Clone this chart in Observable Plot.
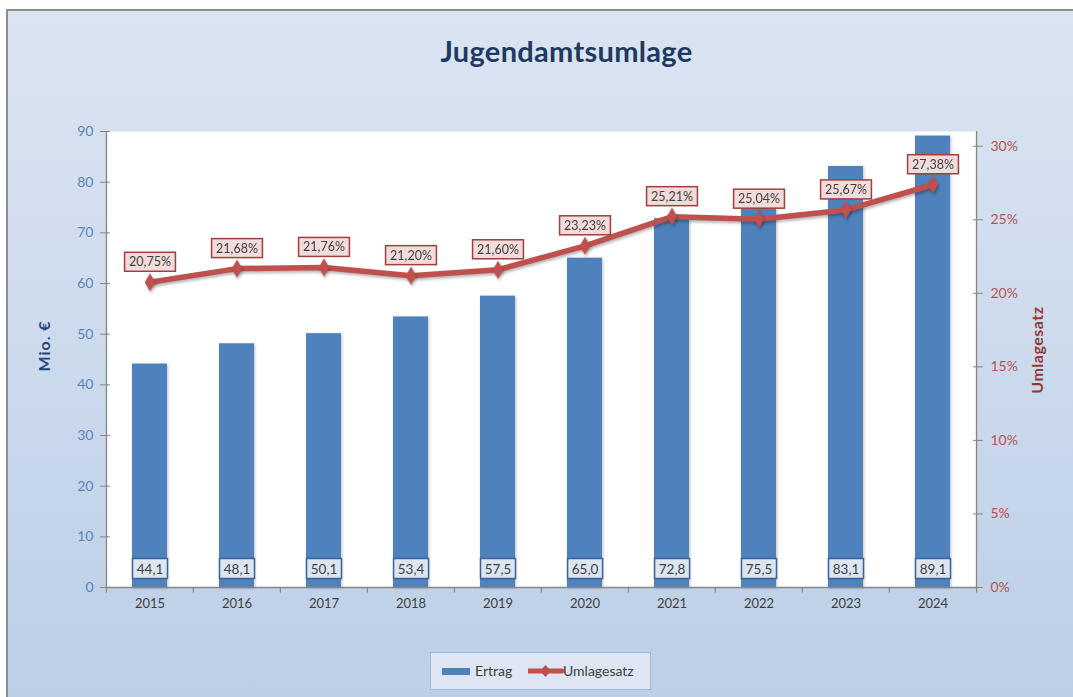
<!DOCTYPE html>
<html>
<head>
<meta charset="utf-8">
<script src="https://cdn.jsdelivr.net/npm/d3@7"></script>
<script src="https://cdn.jsdelivr.net/npm/@observablehq/plot@0.6"></script>
<style>
  html, body { margin: 0; padding: 0; background: #ffffff; width: 1073px; height: 697px; overflow: hidden; font-family: Lato, "Open Sans", sans-serif; }
  #bg { position: absolute; left: 6px; top: 9px; width: 1100px; height: 720px; border-left: 2px solid #8e8e8e; border-top: 2px solid #8e8e8e;
        background: linear-gradient(to bottom, #dbe4f1 0%, #cfdcee 40%, #bacee6 100%); }
  #title { position: absolute; left: 0; width: 1133px; top: 33px; text-align: center; font-size: 29px; font-weight: 700; color: #1f3a60; letter-spacing: 0.3px; }
  #plot { position: absolute; left: 0; top: 0; }
  #plot svg { overflow: visible; }
  .ylab { position: absolute; font-weight: 700; font-size: 16px; white-space: nowrap; transform: translate(-50%, -50%) rotate(-90deg); }
  #legend { position: absolute; left: 430px; top: 652px; width: 221px; height: 38px; box-sizing: border-box; border: 1px solid #9db8da; background: #dde6f2;
            font-size: 14px; color: #404040; }
  .lg { position: absolute; top: 9px; line-height: 18px; }
</style>
</head>
<body>
<div id="bg"></div>
<div id="title">Jugendamtsumlage</div>
<div id="plot"></div>
<div class="ylab" style="left:43px; top:346px; color:#1f497d; letter-spacing:1px;">Mio. €</div>
<div class="ylab" style="left:1036px; top:350px; color:#953735; letter-spacing:0.5px;">Umlagesatz</div>
<div id="legend">
  <svg class="lg" style="left:11px; top:14px" width="30" height="9"><rect x="0" y="1" width="28" height="7" fill="#4f81bd"></rect></svg>
  <div class="lg" style="left:44px">Ertrag</div>
  <svg class="lg" style="left:97px; top:8px" width="36" height="20"><line x1="1" y1="10" x2="34" y2="10" stroke="#c0504d" stroke-width="5" stroke-linecap="round"></line><path d="M17.5,4 L23,10 L17.5,16 L12,10 Z" fill="#c0504d"></path></svg>
  <div class="lg" style="left:132px">Umlagesatz</div>
</div>
<script>
const years = ["2015","2016","2017","2018","2019","2020","2021","2022","2023","2024"];
const ertrag = [44.1, 48.1, 50.1, 53.4, 57.5, 65.0, 72.8, 75.5, 83.1, 89.1];
const umlagesatz = [20.75, 21.68, 21.76, 21.20, 21.60, 23.23, 25.21, 25.04, 25.67, 27.38];
const leftTicks = [0, 10, 20, 30, 40, 50, 60, 70, 80, 90];
const rightTicks = [0, 5, 10, 15, 20, 25, 30];
const leftMax = 90;
const rightMax = 31;

const data = years.map((year, i) => ({year, ertrag: ertrag[i], pct: umlagesatz[i]}));
const k = leftMax / rightMax;                  // right-axis % -> left-axis units
const comma = (s) => s.replace(".", ",");
const fmt1 = (v) => comma(v.toFixed(1));
const fmtPct = (v) => comma(v.toFixed(2)) + "%";

const W = 1073, H = 640;
const mL = 105, mR = 96, mT = 131, mB = 53;
const step = (W - mL - mR) / years.length;
const grey = "#868686";

const chart = Plot.plot({
  width: W, height: H,
  marginLeft: mL, marginRight: mR, marginTop: mT, marginBottom: mB,
  style: {background: "transparent", fontFamily: "Lato, 'Open Sans', sans-serif", overflow: "visible"},
  x: {type: "band", domain: years, paddingInner: 0.6, paddingOuter: 0.3, axis: null},
  y: {domain: [0, leftMax], axis: null},
  marks: [
    Plot.frame({fill: "white", stroke: null}),
    Plot.barY(data, {x: "year", y: "ertrag", fill: "#4f81bd", ariaDescription: "bars"}),
    // axis lines
    Plot.ruleY([0], {stroke: grey, strokeWidth: 1.5}),
    Plot.ruleX([years[0]], {dx: -step / 2, stroke: grey, strokeWidth: 1.5}),
    Plot.ruleX([years[years.length - 1]], {dx: step / 2, stroke: grey, strokeWidth: 1.5}),
    // x tick marks at category boundaries
    Plot.ruleX(years, {dx: -step / 2, y1: 0, y2: -1.1, stroke: grey, strokeWidth: 1.2}),
    Plot.ruleX([years[years.length - 1]], {dx: step / 2, y1: 0, y2: -1.1, stroke: grey, strokeWidth: 1.2}),
    // x labels
    Plot.axisX({tickSize: 0, tickPadding: 11, fontSize: 13, fill: "#404040", color: "#404040", label: null}),
    // left axis
    Plot.axisY({ticks: leftTicks, tickSize: 10, dx: 5, tickFormat: () => "", stroke: grey, label: null}),
    Plot.axisY({ticks: leftTicks, tickSize: 0, tickPadding: 12, fontSize: 14, fill: "#5b84ba", color: "#5b84ba", label: null}),
    // right axis
    Plot.axisY({ticks: rightTicks.map(p => p * k), anchor: "right", tickSize: 10, dx: -5, tickFormat: () => "", stroke: grey, label: null}),
    Plot.axisY({ticks: rightTicks.map(p => p * k), anchor: "right", tickSize: 0, tickPadding: 13, fontSize: 14,
                tickFormat: v => Math.round(v / k) + "%", fill: "#b5534f", color: "#b5534f", label: null}),
    // line
    Plot.line(data, {x: "year", y: d => d.pct * k, stroke: "#c0504d", strokeWidth: 5.5, ariaDescription: "umlage"}),
    Plot.dot(data, {x: "year", y: d => d.pct * k, symbol: "diamond", r: 5.5, fill: "#c0504d", stroke: null, ariaDescription: "umlage"}),
    // labels
    Plot.text(data, {x: "year", y: d => d.pct * k, text: d => fmtPct(d.pct), dy: -20, fontSize: 12.5, fill: "#404040", ariaDescription: "linelabels"}),
    Plot.text(data, {x: "year", frameAnchor: "bottom", text: d => fmt1(d.ertrag), dy: -14, fontSize: 13.5, fill: "#404040", ariaDescription: "barlabels"})
  ]
});
document.getElementById("plot").appendChild(chart);

const bw = chart.scale("x").bandwidth;
const svgNS = "http://www.w3.org/2000/svg";
function boxes(desc, fill, stroke, fixedW, h, padX) {
  chart.querySelectorAll(`g[aria-description="${desc}"] text`).forEach(t => {
    const b = t.getBBox();
    const w = fixedW || (b.width + 2 * padX);
    const cx = b.x + b.width / 2, cy = b.y + b.height / 2;
    const r = document.createElementNS(svgNS, "rect");
    const tr = t.getAttribute("transform");
    if (tr) r.setAttribute("transform", tr);
    r.setAttribute("x", cx - w / 2);
    r.setAttribute("y", cy - h / 2);
    r.setAttribute("width", w);
    r.setAttribute("height", h);
    r.setAttribute("fill", fill);
    r.setAttribute("stroke", stroke);
    r.setAttribute("stroke-width", 1.5);
    t.parentNode.insertBefore(r, t);
  });
}
boxes("linelabels", "#f2dcdb", "#a0403c", null, 19, 4.5);
boxes("barlabels", "#dce6f2", "#3a6399", bw, 20, 0);
chart.querySelectorAll('g[aria-description="umlage"]').forEach(g => g.style.filter = "drop-shadow(1px 2px 1.5px rgba(0,0,0,0.3))");
chart.querySelectorAll('g[aria-description="bars"]').forEach(g => g.style.filter = "drop-shadow(1px 1px 1.5px rgba(0,0,0,0.25))");
</script>
</body>
</html>
